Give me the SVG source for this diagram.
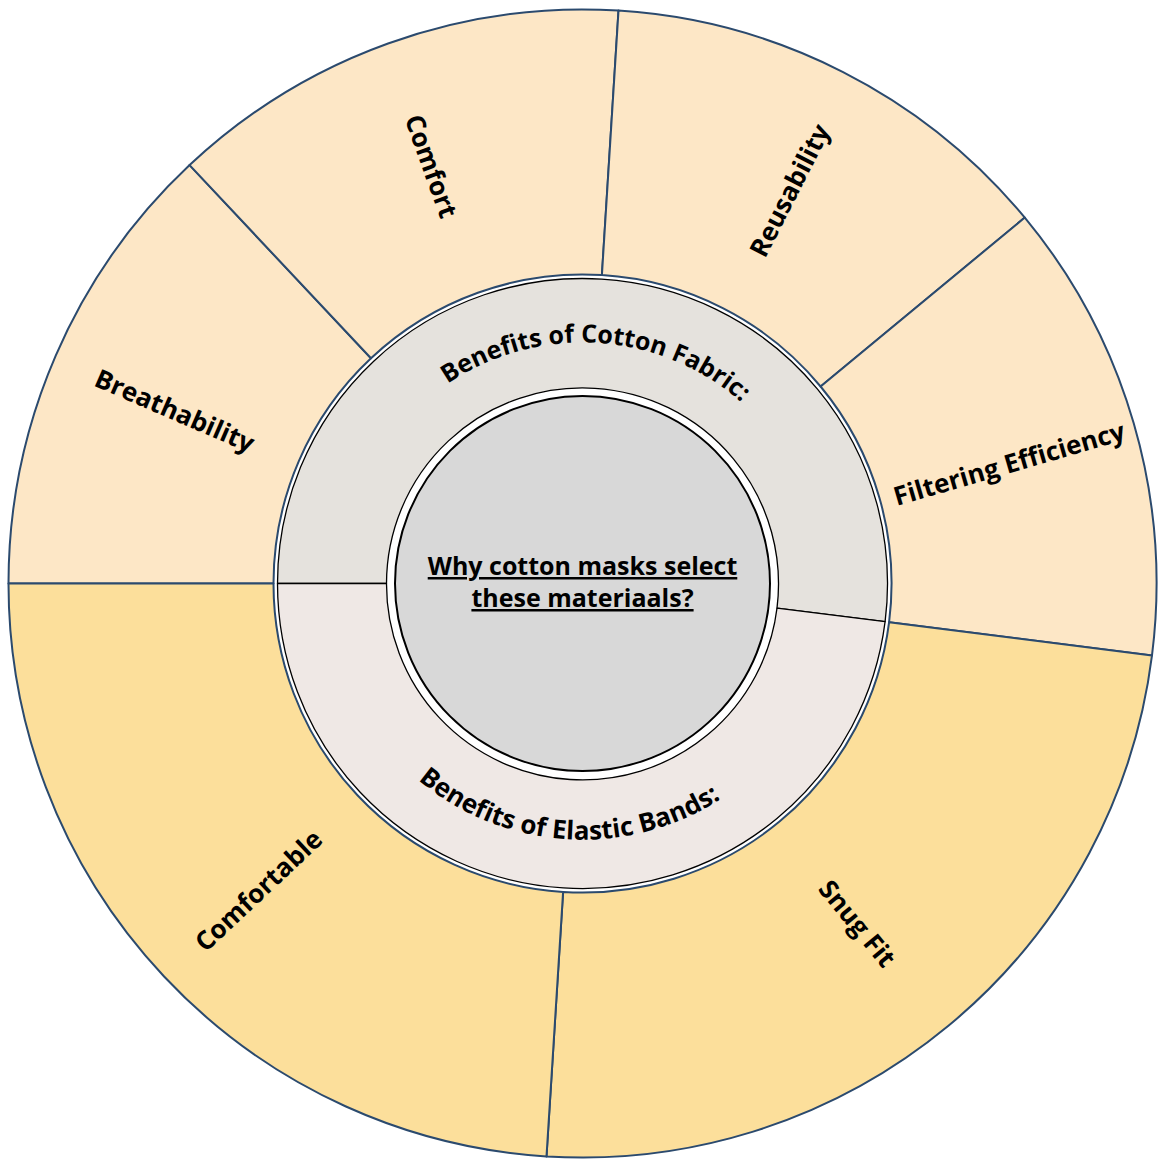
<svg xmlns="http://www.w3.org/2000/svg" width="1167" height="1165" viewBox="0 0 1167 1165">
  <style>
    .outer { stroke: #2B4A6E; stroke-width: 2; stroke-linejoin: round; }
    .top { fill: #FDE7C6; }
    .bot { fill: #FCDF9B; }
    .mid { stroke: #000; stroke-width: 1.3; stroke-linejoin: round; }
    .lbl { font-family: "Open Sans", "Noto Sans", "DejaVu Sans", sans-serif; font-weight: bold; font-size: 26px; fill: #000; text-anchor: middle; dominant-baseline: central; }
    .arcl { font-family: "Open Sans", "Noto Sans", "DejaVu Sans", sans-serif; font-weight: bold; font-size: 25px; fill: #000; text-anchor: middle; }
    .ctr { font-family: "Open Sans", "Noto Sans", "DejaVu Sans", sans-serif; font-weight: bold; font-size: 25px; fill: #000; text-anchor: middle; text-decoration: underline; }
  </style>
  <defs>
    <path id="arcTop" d="M 341.5 583.5 A 241 241 0 1 1 821.6 613.7"/>
    <path id="arcBot" d="M 326.5 583.5 A 256 256 0 0 0 836.5 615.6"/>
  </defs>
  <rect width="1167" height="1165" fill="#FFFFFF"/>

  <g id="breathability">
    <path class="outer top" d="M 8.5 583.5 A 574 574 0 0 1 189.6 165.1 L 371.0 358.3 A 309 309 0 0 0 273.5 583.5 Z"/>
    <text class="lbl" transform="translate(175 410) rotate(23.4)">Breathability</text>
  </g>
  <g id="comfort">
    <path class="outer top" d="M 189.6 165.1 A 574 574 0 0 1 618.5 10.6 L 601.9 275.1 A 309 309 0 0 0 371.0 358.3 Z"/>
    <text class="lbl" transform="translate(432 166) rotate(70.2)">Comfort</text>
  </g>
  <g id="reusability">
    <path class="outer top" d="M 618.5 10.6 A 574 574 0 0 1 1024.8 217.6 L 820.6 386.5 A 309 309 0 0 0 601.9 275.1 Z"/>
    <text class="lbl" transform="translate(789 190) rotate(-63)">Reusability</text>
  </g>
  <g id="filtering-efficiency">
    <path class="outer top" d="M 1024.8 217.6 A 574 574 0 0 1 1152.0 655.4 L 889.1 622.2 A 309 309 0 0 0 820.6 386.5 Z"/>
    <text class="lbl" transform="translate(1009 463) rotate(-16.2)">Filtering Efficiency</text>
  </g>
  <g id="snug-fit">
    <path class="outer bot" d="M 1152.0 655.4 A 574 574 0 0 1 546.5 1156.4 L 563.1 891.9 A 309 309 0 0 0 889.1 622.2 Z"/>
    <text class="lbl" transform="translate(858 923) rotate(50.4)">Snug Fit</text>
  </g>
  <g id="comfortable">
    <path class="outer bot" d="M 546.5 1156.4 A 574 574 0 0 1 8.5 583.5 L 273.5 583.5 A 309 309 0 0 0 563.1 891.9 Z"/>
    <text class="lbl" transform="translate(258 890) rotate(-43.2)">Comfortable</text>
  </g>

  <g id="cotton-fabric">
    <path class="mid" fill="#E5E2DD" d="M 277.5 583.5 A 305 305 0 1 1 885.1 621.7 L 777.0 608.1 A 196 196 0 1 0 386.5 583.5 Z"/>
    <text class="arcl"><textPath href="#arcTop" startOffset="50%">Benefits of Cotton Fabric:</textPath></text>
  </g>
  <g id="elastic-bands">
    <path class="mid" fill="#EFE8E5" d="M 885.1 621.7 A 305 305 0 0 1 277.5 583.5 L 386.5 583.5 A 196 196 0 0 0 777.0 608.1 Z"/>
    <text class="arcl" style="font-size:26px"><textPath href="#arcBot" startOffset="50%">Benefits of Elastic Bands:</textPath></text>
  </g>

  <g id="center">
    <circle cx="582.5" cy="583.5" r="187.5" fill="#D8D8D8" stroke="#000" stroke-width="2"/>
    <text class="ctr" x="582.5" y="575">Why cotton masks select</text>
    <text class="ctr" x="582.5" y="607">these materiaals?</text>
  </g>

  <g id="connectors"/>
</svg>
